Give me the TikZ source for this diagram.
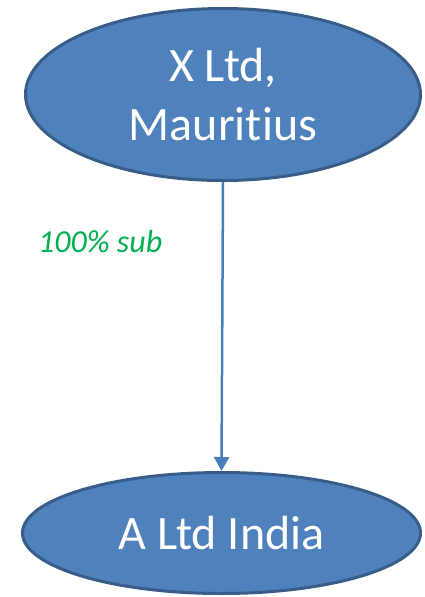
\documentclass[tikz,border=0pt]{standalone}
\usepackage{fontspec}
\setmainfont[Ligatures={NoCommon,NoRare}]{Carlito}
\usetikzlibrary{shapes.geometric,arrows.meta}
\definecolor{boxfill}{HTML}{4F81BD}
\definecolor{boxline}{HTML}{385D8A}
\definecolor{arrowcol}{HTML}{4A7EBB}
\definecolor{labelgreen}{HTML}{00B050}
\tikzset{
  entity/.style={ellipse, draw=boxline, line width=3pt, fill=boxfill, text=white,
    inner sep=0pt, align=center, font=\fontsize{48}{58.6}\selectfont},
  owns/.style={draw=arrowcol, line width=2.5pt, -{Triangle[width=15pt,length=14pt]}},
  pct/.style={text=labelgreen, font=\fontsize{32}{38}\selectfont\itshape, inner sep=0pt}
}
\begin{document}
\begin{tikzpicture}[x=1pt,y=-1pt]
\useasboundingbox (0,0) rectangle (424,597);
\node[entity, minimum width=395pt, minimum height=172pt] (x) at (223,94.5) {X Ltd,\\Mauritius};
\node[entity, minimum width=398pt, minimum height=121pt] (a) at (221.5,533) {A Ltd India};
\draw[owns] (x.south) -- (a.north);
\node[pct, anchor=base west] (l) at (38,252) {100\% sub};
\end{tikzpicture}
\end{document}
